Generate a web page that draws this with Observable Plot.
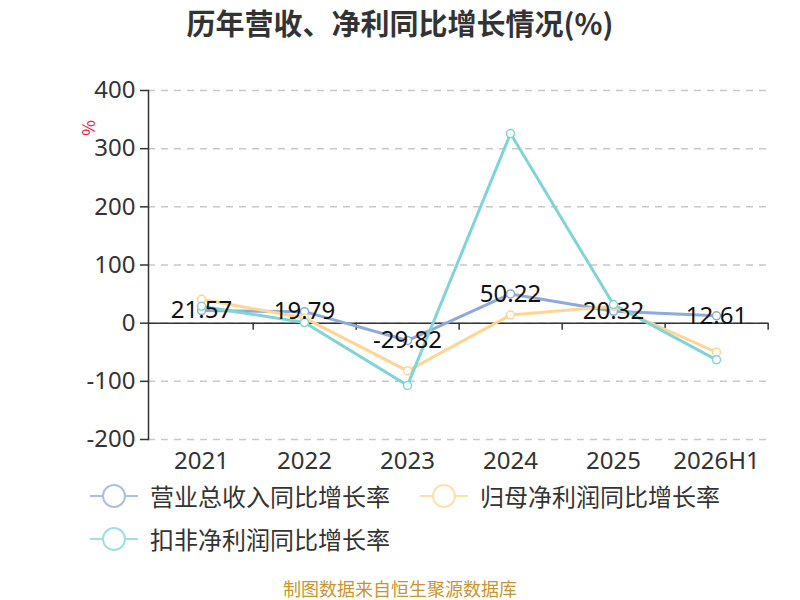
<!DOCTYPE html>
<html>
<head>
<meta charset="utf-8">
<script src="https://cdn.jsdelivr.net/npm/d3@7"></script>
<script src="https://cdn.jsdelivr.net/npm/@observablehq/plot@0.6"></script>
<style>
  body { margin: 0; background: #fff; font-family: "Noto Sans CJK SC", "Noto Sans", sans-serif; }
  #wrap { position: relative; width: 800px; height: 600px; overflow: hidden; }
  #title { height: 45px; line-height: 45px; text-align: center; font-size: 29px; font-weight: bold; color: #333; }
  #unit { position: absolute; left: 80px; top: 118px; color: #e8262b; font-size: 17px; line-height: 20px; transform: rotate(-90deg); transform-origin: center; }
  .legend-row { height: 43px; display: flex; align-items: center; font-size: 24px; color: #333; }
  .item { display: flex; align-items: center; }
  .item span { line-height: 24px; }
  .caption { position: absolute; top: 577px; height: 22px; line-height: 22px; width: 800px; text-align: center; color: #c9952f; font-size: 18px; }
</style>
</head>
<body>
<div id="wrap">
  <div id="title">历年营收、净利同比增长情况(%)</div>
  <div id="chart"></div>
  <div id="unit">%</div>
  <div id="legend" style="margin-top:-4px"></div>
  <div class="caption">制图数据来自恒生聚源数据库</div>
</div>
<script>
const categories = ["2021", "2022", "2023", "2024", "2025", "2026H1"];
const revenueGrowth = [21.57, 19.79, -29.82, 50.22, 20.32, 12.61];
const netProfitGrowth = [41, 9, -82, 14, 29, -50];
const deductedProfitGrowth = [29, 1, -107, 326, 32, -63];
const yTicks = [-200, -100, 0, 100, 200, 300, 400];
const seriesNames = ["营业总收入同比增长率", "归母净利润同比增长率", "扣非净利润同比增长率"];
const seriesColors = ["#8eaadb", "#ffd591", "#80d4d8"];
const legendColors = ["#a9bfe6", "#ffe0aa", "#9ee0e2"];

const seriesValues = [revenueGrowth, netProfitGrowth, deductedProfitGrowth];
const rows = [];
seriesValues.forEach((vals, s) => vals.forEach((v, i) => rows.push({series: seriesNames[s], year: categories[i], value: v})));
const rev = rows.filter(d => d.series === seriesNames[0]);

const W = 800, ML = 148, MR = 32;
const half = (W - ML - MR) / categories.length / 2;

const marks = [
  Plot.gridY(yTicks, {stroke: "#c8c8c8", strokeOpacity: 1, strokeDasharray: "7,6", strokeWidth: 1.5}),
  Plot.frame({anchor: "left", stroke: "#333", strokeWidth: 1.5}),
  Plot.ruleY([0], {stroke: "#333", strokeWidth: 1.5}),
  Plot.ruleX(categories, {x: d => d, y1: 0, y2: -12, dx: half, stroke: "#333", strokeWidth: 1.5}),
  Plot.axisY({ticks: yTicks, tickSize: 8, tickPadding: 5, fontSize: 24, tickFormat: d => d, stroke: "#333", strokeWidth: 1.5}),
  Plot.axisX({tickSize: 0, tickPadding: 12, fontSize: 24})
];
seriesNames.forEach((name, s) => {
  const data = rows.filter(d => d.series === name);
  marks.push(Plot.line(data, {x: "year", y: "value", stroke: seriesColors[s], strokeWidth: 3}));
  marks.push(Plot.dot(data, {x: "year", y: "value", r: 4, fill: "white", stroke: seriesColors[s], strokeWidth: 1.5}));
});
marks.push(Plot.text(rev, {x: "year", y: "value", text: d => d.value.toFixed(2), fontSize: 24, fill: "#111"}));

const chart = Plot.plot({
  width: W, height: 433,
  marginLeft: ML, marginRight: MR, marginTop: 45, marginBottom: 39,
  style: {fontFamily: "'Noto Sans', 'Noto Sans CJK SC', sans-serif", color: "#333", background: "white"},
  x: {type: "point", domain: categories, padding: 0.5, label: null},
  y: {domain: [-200, 400], label: null},
  marks
});
document.getElementById("chart").appendChild(chart);

// Legend
const legend = document.getElementById("legend");
const layout = [[0, 1], [2]];
const itemLeft = [90, 420];
layout.forEach(r => {
  const row = document.createElement("div");
  row.className = "legend-row";
  row.style.position = "relative";
  r.forEach((s, k) => {
    const it = document.createElement("div");
    it.className = "item";
    it.style.position = "absolute";
    it.style.left = itemLeft[k] + "px";
    it.innerHTML = `<svg width="50" height="26" style="margin-right:10px"><line x1="0" y1="13" x2="48" y2="13" stroke="${legendColors[s]}" stroke-width="2"/><circle cx="24" cy="13" r="11" fill="white" stroke="${legendColors[s]}" stroke-width="2"/></svg><span>${seriesNames[s]}</span>`;
    row.appendChild(it);
  });
  legend.appendChild(row);
});
</script>
</body>
</html>
